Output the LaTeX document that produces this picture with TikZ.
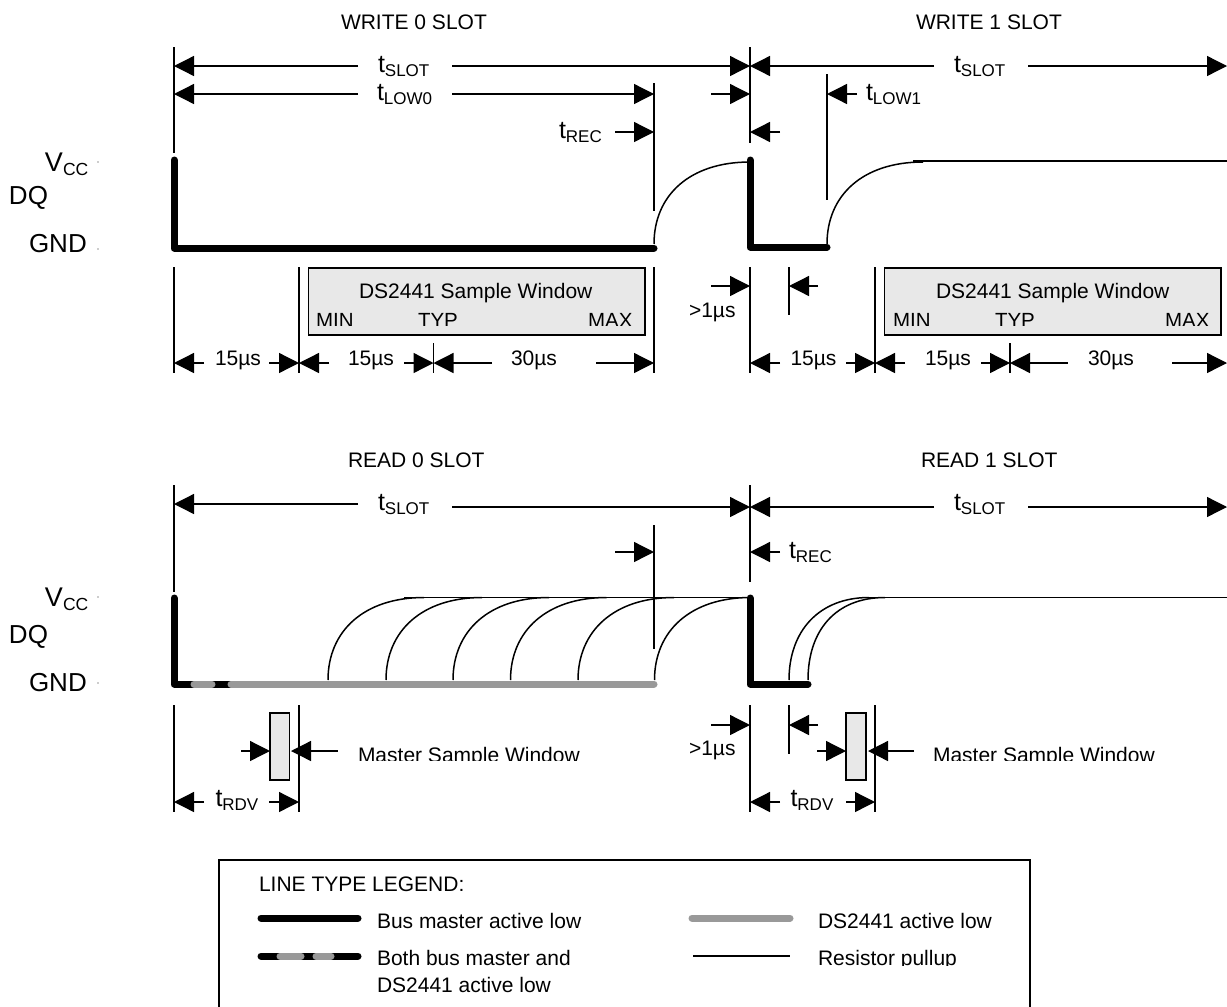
\documentclass[tikz,border=0pt]{standalone}
\usepackage{fontspec}
\setmainfont{Liberation Sans}
\usetikzlibrary{arrows.meta}
\newcommand\tsubtext[2]{{\fontsize{25}{25}\selectfont #1}\raisebox{-4pt}{\fontsize{17}{17}\selectfont #2}}
\newcommand\vsubtext[2]{{\fontsize{27}{27}\selectfont #1}\raisebox{-4pt}{\fontsize{17.5}{17.5}\selectfont #2}}
\newcommand\pullcurve[3]{\draw[pullup] (#1,#2) .. controls +(0,-49) and +(-60,0) .. ++(96,#3);}
\tikzset{
  >={Triangle[length=20pt,width=20pt]},
  every node/.style={inner sep=0pt,outer sep=0pt,font=\fontsize{21}{24}\selectfont},
  txt/.style={anchor=base west},
  bigtxt/.style={anchor=base west,font=\fontsize{26}{28}\selectfont},
  smalltxt/.style={anchor=base west,font=\fontsize{20.5}{24}\selectfont},
  guide/.style={line width=1.2pt,black},
  dimline/.style={line width=1.3pt,black},
  master/.style={line width=7pt,black,line cap=round,line join=round},
  slave/.style={line width=7pt,color=gray60,line cap=round},
  pullup/.style={line width=1.5pt,black},
  window/.style={draw=black,line width=1.3pt,fill=boxgray},
}
\definecolor{gray60}{HTML}{999999}
\definecolor{boxgray}{HTML}{E8E8E8}
\begin{document}
\begin{tikzpicture}[x=1pt,y=-1pt]
\useasboundingbox (0,0) rectangle (1227,1007);

%% ---------- WRITE row ----------
\node[txt] (w0title) at (341,29) {WRITE 0 SLOT};
\node[txt] (w1title) at (916,29) {WRITE 1 SLOT};

% guides
\draw[guide] (174,47) -- (174,153);
\draw[guide] (654,83) -- (654,211);
\draw[guide] (750,47) -- (750,143);
\draw[guide] (827,74) -- (827,200);
\draw[guide] (174,267) -- (174,373);
\draw[guide] (299,267) -- (299,373);
\draw[guide] (433.5,343) -- (433.5,373);
\draw[guide] (654,267) -- (654,373);
\draw[guide] (750,267) -- (750,373);
\draw[guide] (789,267) -- (789,315);
\draw[guide] (875,267) -- (875,373);
\draw[guide] (1010,343) -- (1010,373);

% level labels
\node[txt] (vcc1) at (45,171) {\vsubtext{V}{CC}};
\node[bigtxt] (dq1) at (9,204) {DQ};
\node[bigtxt] (gnd1) at (29,252) {GND};
\fill[gray60] (98,162) circle (0.9);
\fill[gray60] (98,249) circle (0.9);

% timings
\node[txt] (wslot0) at (378,72) {\tsubtext{t}{SLOT}};
\draw[dimline,->] (358,66) -- (174,66);
\draw[dimline,->] (452,66) -- (750,66);
\node[txt] (wlow0) at (377,100) {\tsubtext{t}{LOW0}};
\draw[dimline,->] (358,94) -- (174,94);
\draw[dimline,->] (452,94) -- (654,94);
\node[txt] (wrec0) at (559,138) {\tsubtext{t}{REC}};
\draw[dimline,->] (615,132) -- (654,132);
\draw[dimline,->] (711,94) -- (750,94);
\draw[dimline,->] (780,132) -- (750,132);
\node[txt] (wslot1) at (954,72) {\tsubtext{t}{SLOT}};
\draw[dimline,->] (934,66) -- (750,66);
\draw[dimline,->] (1028,66) -- (1227,66);
\node[txt] (wlow1) at (866,100) {\tsubtext{t}{LOW1}};
\draw[dimline,->] (857,94) -- (827,94);

% waveform
\draw[master] (174,160) -- (174,248) -- (654,248);
\pullcurve{654}{244}{-82}
\draw[master] (750,160) -- (750,247) -- (827,247);
\pullcurve{827}{244}{-82}
\draw[pullup] (913,161) -- (1227,161);

% sample windows
\node[window,minimum width=336.5pt,minimum height=67pt] (win0) at (476.75,301.5) {};
\node[window,minimum width=336.5pt,minimum height=67pt] (win1) at (1052.75,301.5) {};
\node[txt] (win0t) at (359,298) {DS2441 Sample Window};
\node[txt] (win1t) at (936,298) {DS2441 Sample Window};
\begin{scope}
\clip (300,300) rectangle (1227,325.6);
\node[smalltxt] (min0) at (316,327.5) {MIN};
\node[smalltxt] (typ0) at (418,327.5) {TYP};
\node[smalltxt] (max0) at (588,327.5) {MAX};
\node[smalltxt] (min1) at (893,327.5) {MIN};
\node[smalltxt] (typ1) at (995,327.5) {TYP};
\node[smalltxt] (max1) at (1165,327.5) {MAX};
\end{scope}

% bottom dimensions
\node[txt] (w15a) at (215,365) {15µs};
\draw[dimline,->] (204,363) -- (174,363);
\draw[dimline,->] (269,363) -- (299,363);
\node[txt] (w15b) at (348,365) {15µs};
\draw[dimline,->] (329,363) -- (299,363);
\draw[dimline,->] (404,363) -- (433.5,363);
\node[txt] (w30a) at (511,365) {30µs};
\draw[dimline,->] (492,363) -- (433.5,363);
\draw[dimline,->] (596,363) -- (654,363);
\node[txt] (w1us) at (689,317) {>1µs};
\draw[dimline,->] (711,286) -- (750,286);
\draw[dimline,->] (818,286) -- (789,286);
\node[txt] (w15c) at (790.5,365) {15µs};
\draw[dimline,->] (780,363) -- (750,363);
\draw[dimline,->] (846,363) -- (875,363);
\node[txt] (w15d) at (925,365) {15µs};
\draw[dimline,->] (905,363) -- (875,363);
\draw[dimline,->] (981,363) -- (1010,363);
\node[txt] (w30b) at (1088,365) {30µs};
\draw[dimline,->] (1067.5,363) -- (1010,363);
\draw[dimline,->] (1172,363) -- (1227,363);

%% ---------- READ row ----------
\node[txt] (r0title) at (348,467) {READ 0 SLOT};
\node[txt] (r1title) at (921,467) {READ 1 SLOT};

\draw[guide] (174,485) -- (174,592);
\draw[guide] (654,525) -- (654,649);
\draw[guide] (750,485) -- (750,582);
\draw[guide] (174,705) -- (174,812);
\draw[guide] (299,705) -- (299,812);
\draw[guide] (750,705) -- (750,812);
\draw[guide] (789,705) -- (789,754);
\draw[guide] (875,705) -- (875,812);

\node[txt] (vcc2) at (45,606) {\vsubtext{V}{CC}};
\node[bigtxt] (dq2) at (9,643) {DQ};
\node[bigtxt] (gnd2) at (29,691) {GND};
\fill[gray60] (98,597) circle (0.9);
\fill[gray60] (98,683) circle (0.9);

\node[txt] (rslot0) at (378,510) {\tsubtext{t}{SLOT}};
\draw[dimline,->] (358,504) -- (174,504);
\draw[dimline,->] (452,507) -- (750,507);
\draw[dimline,->] (615,552) -- (654,552);
\node[txt] (rslot1) at (954,510) {\tsubtext{t}{SLOT}};
\draw[dimline,->] (934,507) -- (750,507);
\draw[dimline,->] (1028,507) -- (1227,507);
\node[txt] (rrec) at (789,558) {\tsubtext{t}{REC}};
\draw[dimline,->] (780,552) -- (750,552);

% waveform
\draw[pullup] (404,597.5) -- (750,597.5);
\pullcurve{328}{680}{-82.5}
\pullcurve{386}{680}{-82.5}
\pullcurve{453}{680}{-82.5}
\pullcurve{510.5}{680}{-82.5}
\pullcurve{578}{680}{-82.5}
\pullcurve{654.5}{680}{-82.5}
\draw[master] (174,598) -- (174,684) -- (230,684);
\draw[slave] (194,684) -- (212,684);
\draw[slave] (231,684) -- (654,684);
\draw[master] (750,598) -- (750,684) -- (808,684);
\draw[pullup] (789,680) .. controls +(0,-49) and +(-50,0) .. ++(80,-82.5);
\draw[pullup] (808,680) .. controls +(0,-49) and +(-50,0) .. ++(77,-82.5);
\draw[pullup] (865,597.5) -- (1227,597.5);

% master sample windows
\node[window,minimum width=19.5pt,minimum height=67pt] (ms0) at (279.75,746.5) {};
\node[window,minimum width=20pt,minimum height=67pt] (ms1) at (856,746.5) {};
\draw[dimline,->] (241,751) -- (ms0.west |- 0,751);
\draw[dimline,->] (337.5,751) -- (291,751);
\draw[dimline,->] (817,751) -- (ms1.west |- 0,751);
\draw[dimline,->] (914,751) -- (868,751);
\begin{scope}
\clip (340,730) rectangle (1227,760);
\node[txt] (ms0t) at (358,762) {Master Sample Window};
\node[txt] (ms1t) at (933,762) {Master Sample Window};
\end{scope}

\node[txt] (r1us) at (689,755) {>1µs};
\draw[dimline,->] (711,725) -- (750,725);
\draw[dimline,->] (818,725) -- (789,725);
\node[txt] (rrdv0) at (215.5,806) {\tsubtext{t}{RDV}};
\draw[dimline,->] (204,802) -- (174,802);
\draw[dimline,->] (269,802) -- (299,802);
\node[txt] (rrdv1) at (790.5,806) {\tsubtext{t}{RDV}};
\draw[dimline,->] (780,802) -- (750,802);
\draw[dimline,->] (846,802) -- (875,802);

%% ---------- legend ----------
\draw[line width=1.3pt] (219,1007) -- (219,860) -- (1030,860) -- (1030,1007);
\node[txt] (ltitle) at (259,891) {LINE TYPE LEGEND:};
\draw[master] (261,918) -- (358,918);
\node[txt] (lmaster) at (377,928) {Bus master active low};
\draw[master] (261,956) -- (358,956);
\draw[slave] (280,956) -- (301,956);
\draw[slave] (316,956) -- (331,956);
\node[txt] (lboth1) at (377,965) {Both bus master and};
\node[txt] (lboth2) at (377,992) {DS2441 active low};
\draw[slave] (692,918) -- (790,918);
\node[txt] (lslave) at (818,928) {DS2441 active low};
\draw[pullup] (693,956) -- (790,956);
\begin{scope}
\clip (800,940) rectangle (1020,965.5);
\node[txt] (lpull) at (818,965) {Resistor pullup};
\end{scope}
\end{tikzpicture}
\end{document}
